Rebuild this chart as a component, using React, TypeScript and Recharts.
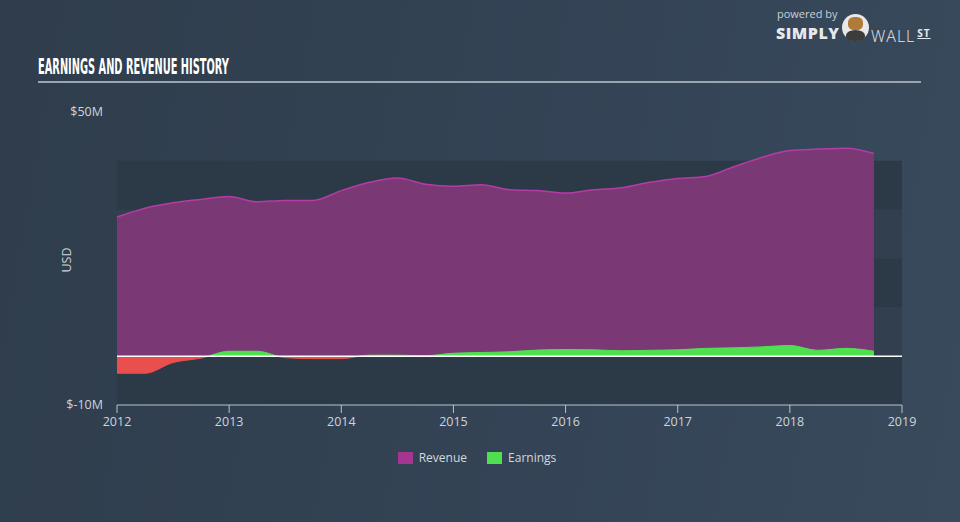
import {
  Area,
  ComposedChart,
  ReferenceArea,
  ReferenceLine,
  XAxis,
  YAxis,
} from "recharts";

const quarters = [
  2012, 2012.25, 2012.5, 2012.75, 2013, 2013.25, 2013.5, 2013.75, 2014,
  2014.25, 2014.5, 2014.75, 2015, 2015.25, 2015.5, 2015.75, 2016, 2016.25,
  2016.5, 2016.75, 2017, 2017.25, 2017.5, 2017.75, 2018, 2018.25, 2018.5,
  2018.75,
];

// USD millions
const revenue = [
  28.5, 30.3, 31.4, 32.1, 32.7, 31.6, 31.9, 31.9, 33.9, 35.6, 36.5, 35.2,
  34.8, 35.1, 34.1, 33.9, 33.4, 34.1, 34.5, 35.6, 36.4, 36.8, 38.8, 40.7,
  42.1, 42.4, 42.6, 41.5,
];

const earnings = [
  -3.5, -3.5, -1.3, -0.4, 1.0, 1.0, -0.3, -0.5, -0.5, 0.2, 0.2, 0.1, 0.6,
  0.75, 0.9, 1.25, 1.35, 1.3, 1.1, 1.2, 1.3, 1.6, 1.7, 1.9, 2.2, 1.2, 1.6,
  1.0,
];

const yearTicks = [2012, 2013, 2014, 2015, 2016, 2017, 2018, 2019];
const valueTicks = [-10, 50];
const bands = [
  { from: -10, to: 0, dark: true },
  { from: 0, to: 10, dark: false },
  { from: 10, to: 20, dark: true },
  { from: 20, to: 30, dark: false },
  { from: 30, to: 40, dark: true },
];

const data = quarters.map((t, i) => ({
  t,
  revenue: revenue[i],
  earnings: earnings[i],
}));

const eMax = Math.max(0, ...earnings);
const eMin = Math.min(0, ...earnings);
const splitOffset = eMax / (eMax - eMin);

const fmtMoney = (v: number) => (v < 0 ? `$-${Math.abs(v)}M` : `$${v}M`);

const tickFont = {
  fontSize: 12.5,
  fill: "#cdd4db",
  fontFamily: "'Open Sans', sans-serif",
};

export default function App() {
  return (
    <div
      style={{
        position: "absolute",
        left: 0,
        top: 0,
        width: 960,
        height: 522,
        overflow: "hidden",
        background: "linear-gradient(100deg, #2f3d4c 0%, #344456 60%, #394a5d 100%)",
        fontFamily: "'Open Sans', sans-serif",
      }}
    >
      <div
        style={{
          position: "absolute",
          left: 38,
          top: 55,
          color: "#ffffff",
          fontFamily: "'DejaVu Sans Condensed', 'Liberation Sans Narrow', sans-serif",
          fontWeight: 700,
          fontSize: 21,
          lineHeight: "24px",
          whiteSpace: "nowrap",
          transform: "scaleX(0.52)",
          transformOrigin: "left center",
        }}
      >
        EARNINGS AND REVENUE HISTORY
      </div>
      <div
        style={{
          position: "absolute",
          left: 38,
          top: 81,
          width: 883,
          height: 2,
          background: "#9aa5b1",
        }}
      />

      {/* logo */}
      <div
        style={{
          position: "absolute",
          left: 777,
          top: 7,
          color: "#c9cfd6",
          fontSize: 11,
          lineHeight: "13px",
        }}
      >
        powered by
      </div>
      <div
        style={{
          position: "absolute",
          left: 776,
          top: 25,
          color: "#e6e9ec",
          fontSize: 16,
          fontWeight: 800,
          letterSpacing: 0.5,
          lineHeight: "16px",
        }}
      >
        SIMPLY
      </div>
      <div
        style={{
          position: "absolute",
          left: 842,
          top: 14,
          width: 27,
          height: 27,
          borderRadius: "50%",
          background: "#e8e8e8",
        }}
      >
        <div
          style={{
            position: "absolute",
            left: 6,
            top: 3,
            width: 15,
            height: 13,
            borderRadius: "40%",
            background: "#b07a3a",
          }}
        />
        <div
          style={{
            position: "absolute",
            left: 4,
            top: 16,
            width: 19,
            height: 11,
            borderRadius: "50% 50% 40% 40%",
            background: "#3c3c3c",
          }}
        />
      </div>
      <div
        style={{
          position: "absolute",
          left: 871,
          top: 25,
          color: "#e6e9ec",
          fontSize: 16,
          fontWeight: 300,
          letterSpacing: 1,
          lineHeight: "16px",
        }}
      >
        WALL
        <span
          style={{
            fontSize: 10,
            fontWeight: 700,
            textDecoration: "underline",
            verticalAlign: 5,
            marginLeft: 2,
          }}
        >
          ST
        </span>
      </div>

      <div
        style={{
          position: "absolute",
          left: 66,
          top: 260,
          color: "#cdd4db",
          fontSize: 12.5,
          transform: "translate(-50%, -50%) rotate(-90deg)",
        }}
      >
        USD
      </div>

      <div style={{ position: "absolute", left: 0, top: 0 }}>
        <ComposedChart
          width={960}
          height={522}
          data={data}
          margin={{ top: 112, right: 58, bottom: 0, left: 0 }}
        >
          <defs>
            <linearGradient id="earnSplit" x1="0" y1="0" x2="0" y2="1">
              <stop offset={splitOffset} stopColor="#4fe04f" />
              <stop offset={splitOffset} stopColor="#e94f4c" />
            </linearGradient>
          </defs>
          <XAxis
            dataKey="t"
            type="number"
            domain={[2012, 2019]}
            ticks={yearTicks}
            height={117}
            tick={tickFont}
            stroke="#b9c2cb"
            tickSize={8}
            tickMargin={4}
          />
          <YAxis
            type="number"
            domain={[-10, 50]}
            ticks={valueTicks}
            width={117}
            tick={tickFont}
            tickFormatter={fmtMoney}
            axisLine={false}
            tickLine={false}
            tickSize={0}
            tickMargin={14}
          />
          {bands.map((b) => (
            <ReferenceArea
              key={b.from}
              y1={b.from}
              y2={b.to}
              fill={b.dark ? "#2c3a48" : "#313f4e"}
              fillOpacity={1}
              stroke="none"
              ifOverflow="hidden"
            />
          ))}
          <Area
            dataKey="revenue"
            type="monotone"
            fill="#7a3874"
            fillOpacity={1}
            stroke="#b53ba6"
            strokeWidth={1.5}
            isAnimationActive={false}
          />
          <Area
            dataKey="earnings"
            type="monotone"
            fill="url(#earnSplit)"
            fillOpacity={1}
            stroke="url(#earnSplit)"
            strokeWidth={1}
            isAnimationActive={false}
          />
          <ReferenceLine y={0} stroke="#ffffff" strokeWidth={1.5} />
        </ComposedChart>
      </div>

      <div
        style={{
          position: "absolute",
          left: 0,
          top: 449,
          width: 960,
          display: "flex",
          justifyContent: "center",
          alignItems: "center",
          gap: 20,
          color: "#d2d8de",
          fontSize: 12,
          paddingRight: 6,
          boxSizing: "border-box",
        }}
      >
        <div style={{ display: "flex", alignItems: "center", gap: 6 }}>
          <span style={{ width: 15, height: 12, background: "#a4368f", display: "inline-block" }} />
          Revenue
        </div>
        <div style={{ display: "flex", alignItems: "center", gap: 6 }}>
          <span style={{ width: 15, height: 12, background: "#4fe04f", display: "inline-block" }} />
          Earnings
        </div>
      </div>
    </div>
  );
}
